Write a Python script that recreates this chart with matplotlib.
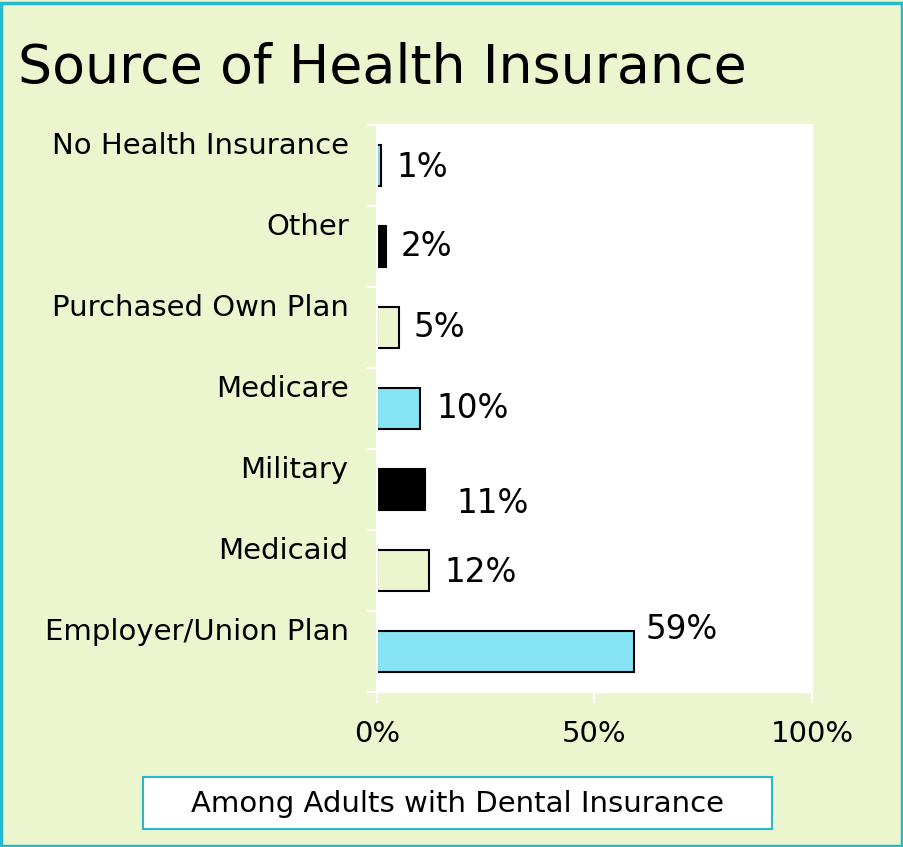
import numpy as np
import matplotlib
matplotlib.use('Agg')
import matplotlib.pyplot as plt
from matplotlib.patches import Rectangle
import matplotlib.transforms as mtransforms

# data (top to bottom)
categories = ['No Health Insurance', 'Other', 'Purchased Own Plan', 'Medicare',
              'Military', 'Medicaid', 'Employer/Union Plan']
values = [1, 2, 5, 10, 11, 12, 59]
value_labels = ['1%', '2%', '5%', '10%', '11%', '12%', '59%']
x_ticks = [0, 50, 100]
x_tick_labels = ['0%', '50%', '100%']

# styles
bg = '#ECF6CE'
cyan = '#86E3F3'
teal = '#27B9CC'
bar_colors = [cyan, 'black', bg, cyan, 'black', bg, cyan]
# label offsets (x in data units, y in category units) to mimic the original placement
lab_dx = [3.5, 3.4, 3.4, 3.7, 7.3, 3.6, 2.8]
lab_dy = [0.02, 0.0, 0.0, 0.0, 0.17, 0.03, -0.27]

fig = plt.figure(figsize=(9.04, 8.47), dpi=100, facecolor=bg)
# outer border
fig.patches.append(Rectangle((0.001, 0.001), 0.997, 0.996, transform=fig.transFigure,
                             fill=False, edgecolor=teal, linewidth=2.5))

ax = fig.add_axes([377 / 904, 1 - 692 / 847, 435 / 904, (692 - 125) / 847])
ax.set_facecolor('white')
n = len(categories)
y = np.arange(n)[::-1]
ax.barh(y, values, height=0.5, color=bar_colors, edgecolor='black', linewidth=1.5)
for yi, v, lab, dx, dy in zip(y, values, value_labels, lab_dx, lab_dy):
    ax.text(v + dx, yi - dy, lab, va='center', ha='left', fontsize=23.5, color='black')

ax.set_xlim(0, 100)
ax.set_ylim(-0.5, n - 0.5)
ax.set_xticks(x_ticks)
ax.set_xticklabels(x_tick_labels, fontsize=21)
ax.set_yticks(np.arange(n + 1) - 0.5)
ax.set_yticklabels([])
ax.tick_params(axis='both', colors='white', length=8, width=1.5)
ax.tick_params(axis='x', labelcolor='black', pad=12)
for s in ax.spines.values():
    s.set_color('white')
    s.set_linewidth(1.5)
# category labels, shifted up from bar centres
for yi, cat in zip(y, categories):
    ax.text(-0.065, yi + 0.24, cat, transform=mtransforms.blended_transform_factory(ax.transAxes, ax.transData),
            ha='right', va='center', fontsize=21)

fig.text(18 / 904, 1 - 68 / 847, 'Source of Health Insurance', fontsize=38.7, va='center', ha='left')

# bottom caption box
fig.patches.append(Rectangle((143 / 904, 1 - 829 / 847), (772 - 143) / 904, 52 / 847,
                             transform=fig.transFigure, facecolor='white', edgecolor=teal, linewidth=1.5))
fig.text((143 + 772) / 2 / 904, 1 - 804 / 847, 'Among Adults with Dental Insurance',
         fontsize=21, ha='center', va='center')

fig.savefig('out.png', dpi=100, facecolor=bg)
